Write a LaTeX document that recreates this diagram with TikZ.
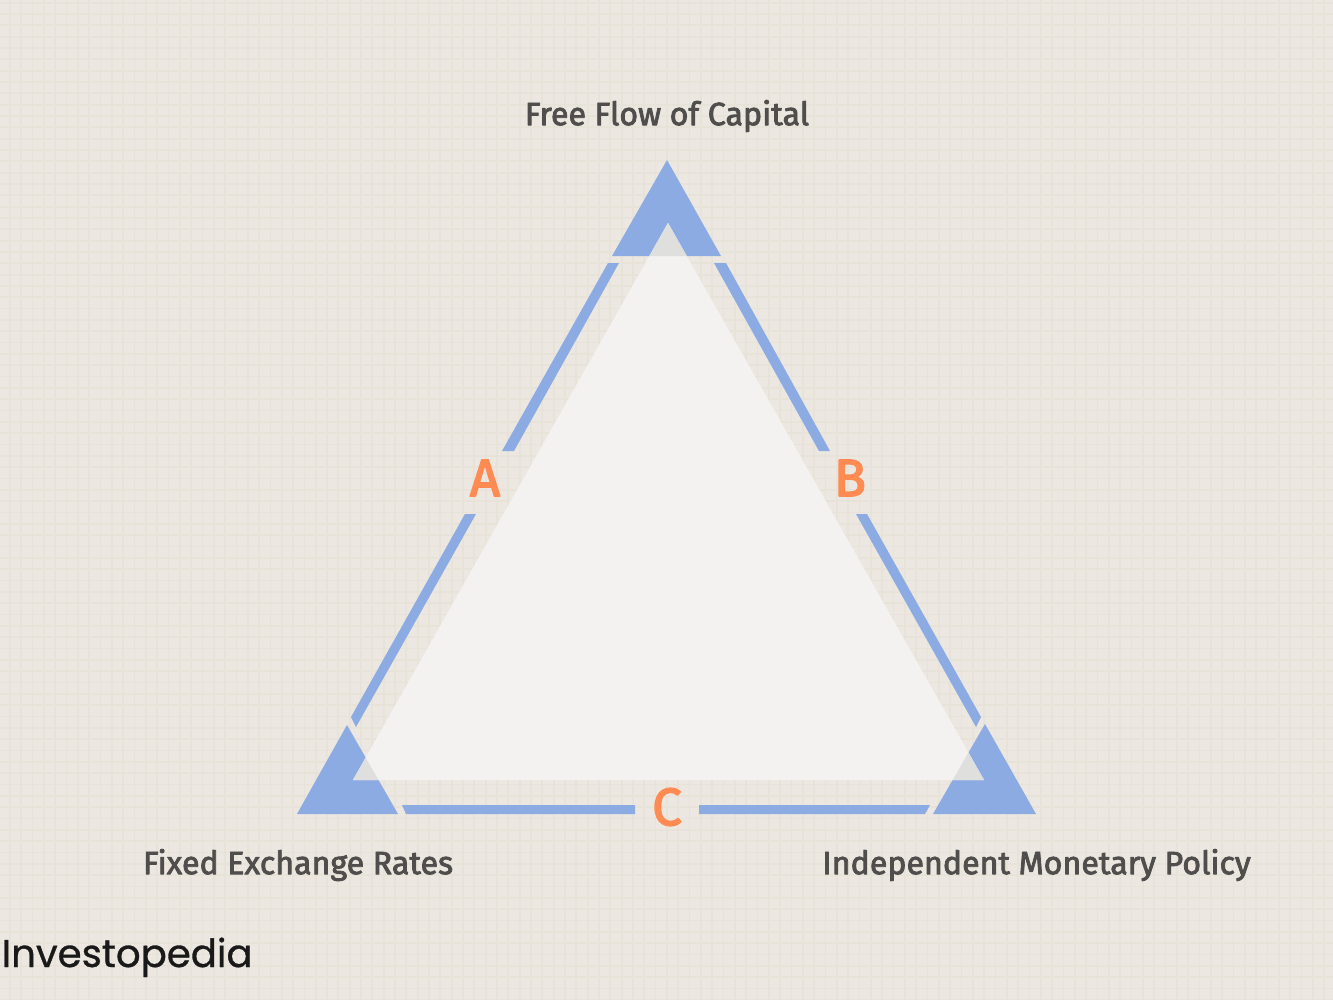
\documentclass[tikz,border=0pt]{standalone}
\usepackage{fontspec}
\newfontfamily\labelfont[FakeBold=2.5]{Fira Sans}
\newfontfamily\letterfont[FakeBold=3]{Fira Sans}
\newfontfamily\logofont[FakeBold=0.8]{Poppins}
\definecolor{paper}{HTML}{ECE7E0}
\definecolor{gridline}{HTML}{E8E3D9}
\definecolor{cornerblue}{HTML}{8CABE3}
\definecolor{innerwhite}{HTML}{F3F2F0}
\definecolor{overlapgrey}{HTML}{DFDFDE}
\definecolor{labelgrey}{HTML}{4F4E4C}
\definecolor{letterorange}{HTML}{FF8B52}
\tikzset{
  cornertext/.style={text=labelgrey,inner sep=0pt,font=\labelfont\fontsize{9.15}{11}\selectfont},
  sideletter/.style={text=letterorange,inner sep=0pt,font=\letterfont\fontsize{15}{18}\selectfont},
  bar/.style={fill=cornerblue}
}
\begin{document}
\begin{tikzpicture}[line cap=round,line join=round,x=0.01cm,y=-0.01cm]
\clip(0,0) rectangle (1333,1000);
\fill [paper] (0,0) rectangle (1333,1000);
\foreach \i in {0,...,118} {
\draw [gridline,line width=0.5pt,line cap=butt] ({9.8+11.33*\i},0)-- ({9.8+11.33*\i},1000);
\draw [gridline,line width=0.5pt,line cap=butt] (0,{2.7+11.33*\i})-- (1333,{2.7+11.33*\i});
}
\fill [cornerblue] (667,160)-- (721,256)-- (612,256)-- cycle;
\fill [cornerblue] (347,725)-- (398,814)-- (297,814)-- cycle;
\fill [cornerblue] (985,724)-- (1036,814)-- (933,814)-- cycle;
\fill [bar] (608,263)-- (619,263)-- (514,451)-- (502,451)-- cycle;
\fill [bar] (465,514)-- (476,514)-- (356,727)-- (351,717)-- cycle;
\fill [bar] (714,263)-- (726,263)-- (830,451)-- (819,451)-- cycle;
\fill [bar] (856,514)-- (867,514)-- (981,717)-- (976,727)-- cycle;
\fill [bar] (402,805)-- (635,805)-- (635,814)-- (406,814)-- cycle;
\fill [bar] (699,805)-- (930,805)-- (925,814)-- (699,814)-- cycle;
\fill [innerwhite] (668,223)-- (984,780)-- (353,780)-- cycle;
\begin{scope}
\clip (668,223)-- (984,780)-- (353,780)-- cycle;
\fill [overlapgrey] (667,160)-- (721,256)-- (612,256)-- cycle;
\fill [overlapgrey] (347,725)-- (398,814)-- (297,814)-- cycle;
\fill [overlapgrey] (985,724)-- (1036,814)-- (933,814)-- cycle;
\end{scope}
\node [cornertext] (flow) at (667,116) {Free Flow of Capital};
\node [cornertext] (fixed) at (298,865) {Fixed Exchange Rates};
\node [cornertext] (policy) at (1036.5,865) {Independent Monetary Policy};
\node [sideletter] (sideA) at (485,478) {A};
\node [sideletter] (sideB) at (850,478) {B};
\node [sideletter] (sideC) at (667,807) {C};
\node [anchor=base west,inner sep=0pt,text=black!90,font=\logofont\fontsize{11}{14}\selectfont] (logo) at (1,967) {Investopedia};
\end{tikzpicture}
\end{document}
